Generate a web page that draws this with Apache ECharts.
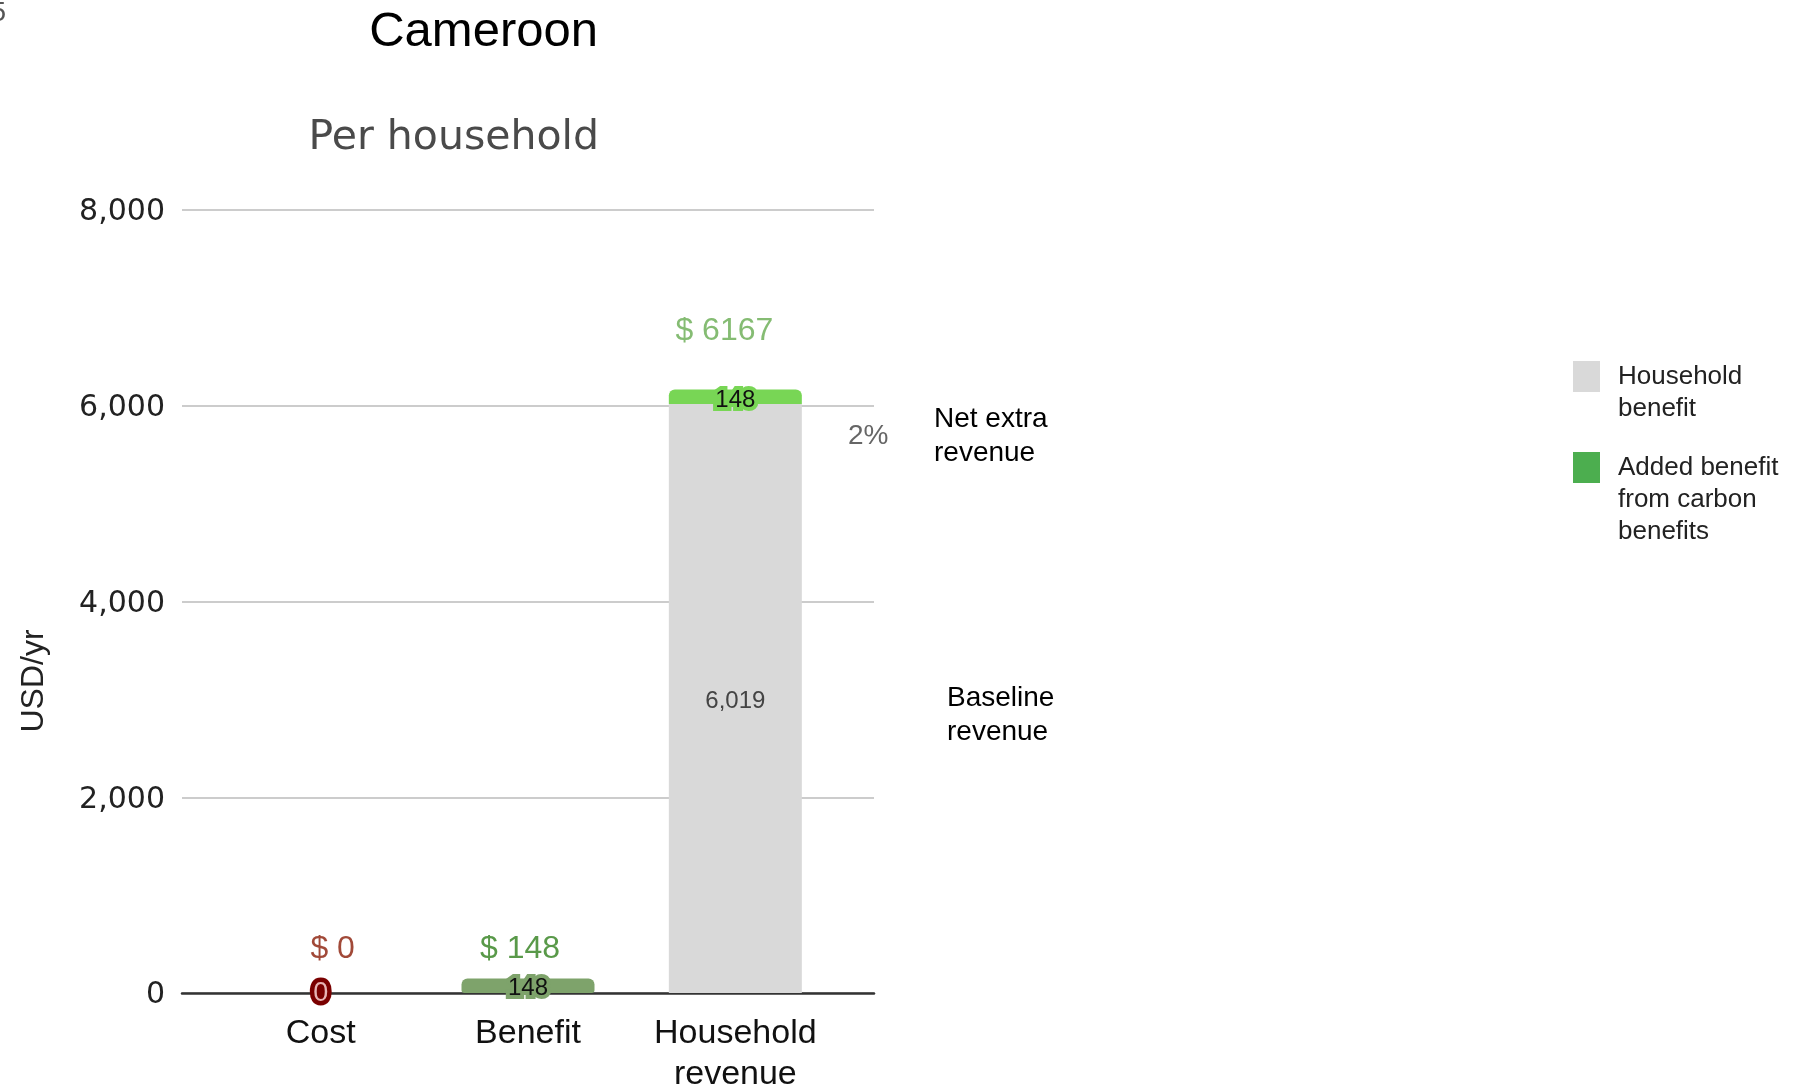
<!DOCTYPE html>
<html>
<head>
<meta charset="utf-8">
<script src="https://cdn.jsdelivr.net/npm/echarts@6/dist/echarts.min.js"></script>
<style>
  html, body { margin: 0; padding: 0; background: #ffffff; }
  #chart { width: 1810px; height: 1090px; }
</style>
</head>
<body>
<div id="chart"></div>
<script>
// ---- data ----
const categories = ['Cost', 'Benefit', 'Household\nrevenue'];
const costValues = [0, null, null];
const baselineRevenue = [null, null, 6019];
const addedBenefit = [null, 148, 148];
const yTickValues = [0, 2000, 4000, 6000, 8000];
const legendNames = ['Household benefit', 'Added benefit from carbon benefits'];
const legendLabels = ['Household\nbenefit', 'Added benefit\nfrom carbon\nbenefits'];
const chartTitle = 'Cameroon';
const chartSubtitle = 'Per household';
const yAxisTitle = 'USD/yr';

// totals on top of each column
const totals = categories.map((c, i) =>
  (costValues[i] || 0) + (baselineRevenue[i] || 0) + (addedBenefit[i] || 0));
const pctExtra = Math.round(addedBenefit[2] / baselineRevenue[2] * 100) + '%';

// ---- styles ----
const ARIAL = '"Liberation Sans", Arial, sans-serif';
const totalColors = ['#8a1c06', '#2f7f1c', '#66ab50'];
const totalOffsets = [[12, -44], [-8, -29], [-11, -58]];
const addedColors = [null, '#7ea36b', '#78d655'];
const addedLabelOffsets = [null, [0, 3], [0, 4]];

const chart = echarts.init(document.getElementById('chart'), null, { renderer: 'canvas' });

const fmt = v => String(v).replace(/\B(?=(\d{3})+(?!\d))/g, ',');

// shift legend text so that its first line is level with the swatch
const padLines = (s) => '\n'.repeat(s.split('\n').length - 1) + s;

const option = {
  animation: false,
  backgroundColor: '#ffffff',
  grid: [
    { left: 217, top: 210, width: 622, height: 783, containLabel: false, outerBoundsMode: 'none' },
    { left: 182, top: 210, width: 692, height: 783, containLabel: false, outerBoundsMode: 'none' }
  ],
  xAxis: [
    {
      type: 'category', gridIndex: 0, data: categories,
      axisLine: { show: false }, axisTick: { show: false },
      axisLabel: { interval: 0, fontFamily: ARIAL, fontSize: 34, lineHeight: 41, color: '#111', margin: 20 }
    },
    {
      type: 'category', gridIndex: 1, data: [''],
      axisLine: { show: true, lineStyle: { color: '#333', width: 2.5 } },
      axisTick: { show: false }, axisLabel: { show: false }
    }
  ],
  yAxis: [
    {
      type: 'value', gridIndex: 0, min: yTickValues[0], max: yTickValues[yTickValues.length - 1],
      interval: yTickValues[1] - yTickValues[0], show: false, splitLine: { show: false }
    },
    {
      type: 'value', gridIndex: 1, min: yTickValues[0], max: yTickValues[yTickValues.length - 1],
      interval: yTickValues[1] - yTickValues[0],
      axisLine: { show: false }, axisTick: { show: false },
      axisLabel: { fontFamily: '"DejaVu Sans", Verdana, sans-serif', fontSize: 30, color: '#222', margin: 17,
                   formatter: v => '{v|' + fmt(v) + '}',
                   rich: { v: { fontFamily: '"DejaVu Sans", Verdana, sans-serif', fontSize: 30, color: '#222', padding: [5, 0, 0, 0] } } },
      splitLine: { show: true, lineStyle: { color: '#cccccc', width: 2 } }
    }
  ],
  legend: [
    {
      data: [{ name: legendNames[0], itemStyle: { color: '#d9d9d9' } }],
      orient: 'vertical', left: 1573, top: 328.5, padding: 0,
      itemWidth: 27, itemHeight: 31, selectedMode: false,
      icon: 'rect',
      formatter: () => padLines(legendLabels[0]),
      textStyle: { fontFamily: ARIAL, fontSize: 26, lineHeight: 32, color: '#222', padding: [0, 0, 0, 13] }
    },
    {
      data: [{ name: legendNames[1], itemStyle: { color: '#4cae4f' } }],
      orient: 'vertical', left: 1573, top: 387.5, padding: 0,
      itemWidth: 27, itemHeight: 31, selectedMode: false,
      icon: 'rect',
      formatter: () => padLines(legendLabels[1]),
      textStyle: { fontFamily: ARIAL, fontSize: 26, lineHeight: 32, color: '#222', padding: [0, 0, 0, 13] }
    }
  ],
  series: [
    {
      name: 'Cost', type: 'bar', stack: 'total', xAxisIndex: 0, yAxisIndex: 0,
      barWidth: 133,
      data: costValues.map(v => v === null ? '-' : v),
      itemStyle: { color: '#7a0000' },
      label: {
        show: true, position: 'inside', fontFamily: ARIAL, fontSize: 27, offset: [0, 1],
        color: '#e7b5b5', textBorderColor: '#7a0000', textBorderWidth: 9
      }
    },
    {
      name: legendNames[0], type: 'bar', stack: 'total', xAxisIndex: 0, yAxisIndex: 0,
      barWidth: 133,
      data: baselineRevenue.map(v => v === null ? '-' : v),
      itemStyle: { color: '#d9d9d9' },
      label: {
        show: true, position: 'inside', fontFamily: ARIAL, fontSize: 24, color: '#444',
        offset: [0, 3],
        formatter: p => fmt(p.value)
      }
    },
    {
      name: legendNames[1], type: 'bar', stack: 'total', xAxisIndex: 0, yAxisIndex: 0,
      barWidth: 133,
      data: addedBenefit.map((v, i) => v === null ? '-' : {
        value: v,
        itemStyle: { color: addedColors[i], borderRadius: [6, 6, i === 1 ? 3 : 0, i === 1 ? 3 : 0] },
        label: { textBorderColor: addedColors[i], offset: addedLabelOffsets[i] }
      }),
      itemStyle: { color: '#78d655' },
      label: {
        show: true, position: 'inside', fontFamily: ARIAL, fontSize: 24, color: '#111',
        textBorderWidth: 8
      }
    },
    {
      name: 'Total', type: 'scatter', xAxisIndex: 0, yAxisIndex: 0,
      symbolSize: 1, itemStyle: { color: 'rgba(0,0,0,0)' },
      data: totals.map((t, i) => ({
        value: t,
        label: { color: totalColors[i], offset: totalOffsets[i] }
      })),
      label: {
        show: true, position: 'inside', fontFamily: ARIAL, fontSize: 32,
        formatter: p => '$ ' + p.value
      },
      z: 5
    }
  ],
  graphic: [
    { type: 'text', right: 1810 - 598, top: 8, style: { text: chartTitle, font: '49px "Liberation Sans", Arial, sans-serif', fill: '#000' } },
    { type: 'text', right: 1810 - 599, top: 118, style: { text: chartSubtitle, font: '41px "DejaVu Sans", Verdana, sans-serif', fill: '#4a4a4a' } },
    { type: 'text', x: 34, y: 681, rotation: Math.PI / 2, style: { text: yAxisTitle, font: '32px ' + ARIAL, fill: '#222', align: 'center', verticalAlign: 'middle' } },
    { type: 'text', x: 848, y: 436, style: { text: pctExtra, font: '28px ' + ARIAL, fill: '#666', align: 'left', verticalAlign: 'middle' } },
    { type: 'text', x: 934, y: 436, style: { text: 'Net extra\nrevenue', font: '28px ' + ARIAL, lineHeight: 34, fill: '#000', align: 'left', verticalAlign: 'middle' } },
    { type: 'text', x: 947, y: 715, style: { text: 'Baseline\nrevenue', font: '28px ' + ARIAL, lineHeight: 34, fill: '#000', align: 'left', verticalAlign: 'middle' } },
    { type: 'text', x: 6, y: 13, style: { text: '5', font: '28px ' + ARIAL, fill: '#555', align: 'right', verticalAlign: 'middle' } }
  ]
};

chart.setOption(option);
</script>
</body>
</html>
